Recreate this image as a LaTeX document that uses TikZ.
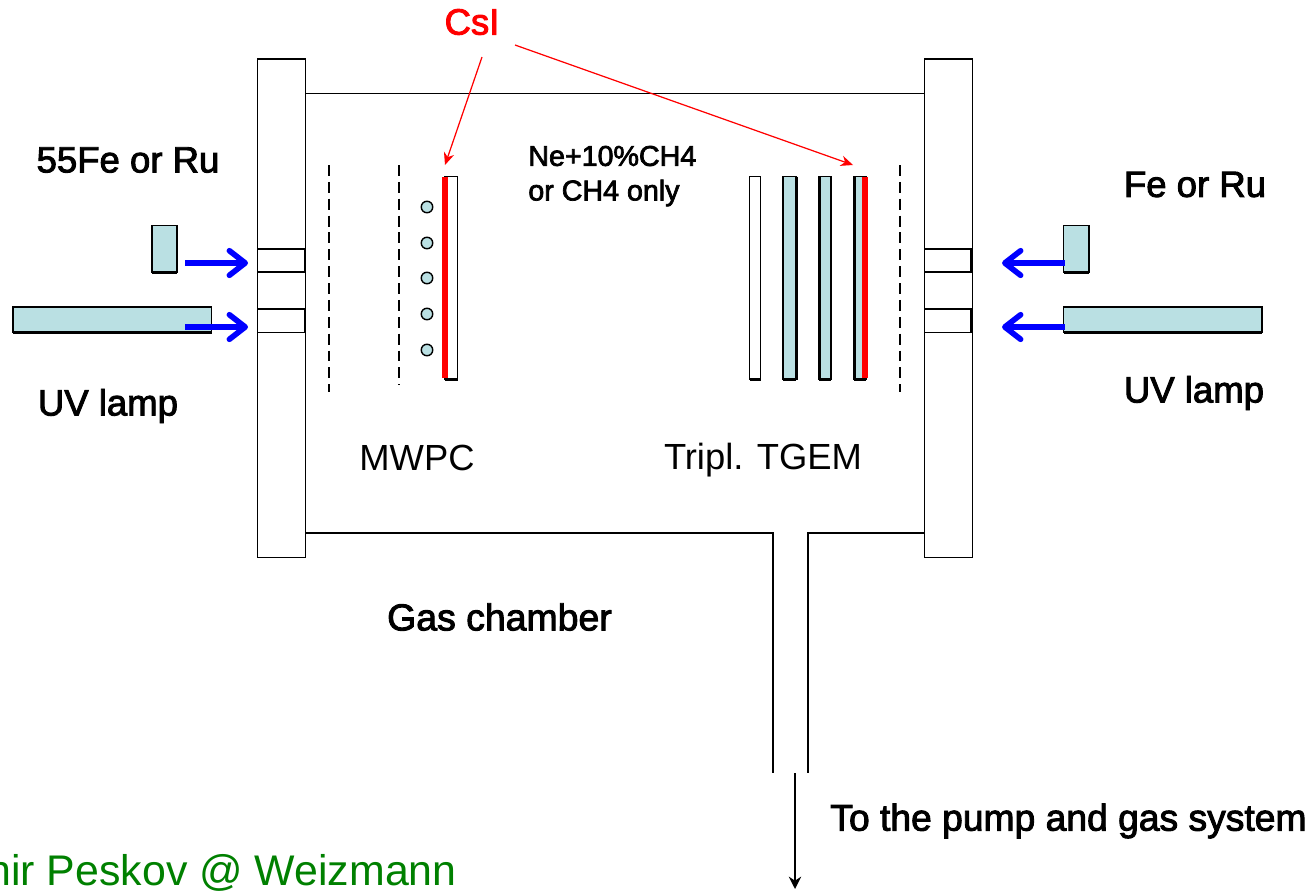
\documentclass[tikz,border=0pt]{standalone}
\usepackage{fontspec}
\setmainfont{Liberation Sans}
\newfontfamily\heavyfont[FakeBold=2.5]{Liberation Sans}
\usetikzlibrary{positioning,arrows.meta}
\definecolor{lampblue}{HTML}{BAE0E3}
\definecolor{signgreen}{HTML}{008000}
\tikzset{
    wall/.style={draw=black,fill=white,line width=.85pt,inner sep=0pt,outer sep=0pt,anchor=north west},
    lamp/.style={draw=black,fill=lampblue,line width=.85pt,inner sep=0pt,outer sep=0pt,anchor=north west},
    foil/.style={draw=none,fill=red,inner sep=0pt,outer sep=0pt,anchor=north west},
    wire/.style={circle,draw=black,fill=lampblue,line width=.8pt,inner sep=0pt,minimum size=11.5*0.02cm},
    label/.style={inner sep=0pt,font=\heavyfont\fontsize{20.8}{20.8}\selectfont,text=black},
    plainlabel/.style={inner sep=0pt,font=\fontsize{20.7}{20.7}\selectfont,text=black},
    smalllabel/.style={inner sep=0pt,font=\heavyfont\fontsize{16.3}{16.3}\selectfont,text=black,anchor=west},
    beam/.style={-{Straight Barb[length=9pt,width=14pt,round]},blue,line width=3.2pt,line cap=butt},
    pointer/.style={-{Stealth[length=7pt,width=6pt]},red,line width=.7pt},
    mesh/.style={dash pattern=on 6.2pt off 3.4pt,line width=1.1pt},
    shade/.style={line width=1.7pt,line cap=butt}
}
\newcommand{\pixbox}[6]{\node[#1,minimum width=(#4-#3)*0.02cm,minimum height=(#6-#5)*0.02cm] (#2) at (#3,#5) {};}
\begin{document}
\begin{tikzpicture}[x=0.02cm,y=-0.02cm]
    \useasboundingbox (0,0) rectangle (1314,890);
    % chamber and flanges
    \pixbox{wall}{chamber}{305.5}{924.3}{93.5}{533}
    \pixbox{wall}{flangeL}{257.5}{305.5}{59}{557.5}
    \pixbox{wall}{flangeR}{924.3}{972.3}{59}{557.5}
    \pixbox{wall}{windowLa}{257.5}{304.5}{249}{272}
    \pixbox{wall}{windowLb}{257.5}{304.5}{309}{332.5}
    \pixbox{wall}{windowRa}{924.3}{971}{249}{272}
    \pixbox{wall}{windowRb}{924.3}{971}{309}{332.5}
    \draw[shade] (windowRa.north east) -- (windowRa.south east);
    \draw[shade] (windowRb.north east) -- (windowRb.south east);
    % pipe
    \fill[white] (774,531) rectangle (807,535);
    \coordinate (pipeLa) at (773,533);
    \coordinate (pipeLb) at (773,773);
    \coordinate (pipeRa) at (808,533);
    \coordinate (pipeRb) at (808,773);
    \draw[line width=1.2pt] (pipeLa) -- (pipeLb);
    \draw[line width=1.2pt] (pipeRa) -- (pipeRb);
    % lamps
    \pixbox{lamp}{sourceL}{152}{177}{225.5}{272}
    \pixbox{lamp}{lampL}{13}{211.5}{307}{332.5}
    \pixbox{lamp}{sourceR}{1063.5}{1089}{225.5}{272}
    \pixbox{lamp}{lampR}{1063.5}{1262}{307}{332.5}
    % meshes
    \coordinate (meshAt) at (329,165);
    \coordinate (meshAb) at (329,392);
    \coordinate (meshBt) at (399,165);
    \coordinate (meshBb) at (399,385);
    \coordinate (meshCt) at (900,165);
    \coordinate (meshCb) at (900,392);
    \draw[mesh] (meshAt) -- (meshAb);
    \draw[mesh] (meshBt) -- (meshBb);
    \draw[mesh,line width=.7pt] (meshCt) -- (meshCb);
    % anode wires
    \foreach \wy [count=\i] in {207,243,278,314,350}
        \node[wire] (wire\i) at (427,\wy) {};
    % cathode and gems
    \pixbox{wall}{cathode}{445}{457.7}{176.5}{379.5}
    \pixbox{foil}{foilL}{442}{448}{177}{378}
    \pixbox{wall}{plateA}{749.5}{760.5}{176.5}{379.5}
    \pixbox{lamp}{plateB}{783}{796}{176.5}{379.5}
    \pixbox{lamp}{plateC}{819}{831}{176.5}{379.5}
    \pixbox{lamp}{plateD}{854}{866}{176.5}{379.5}
    \draw[shade] (plateB.north east) -- (plateB.south east);
    \draw[shade] (plateC.north west) -- (plateC.south west);
    \draw[shade] (plateD.north west) -- (plateD.south west);
    \foreach \plate in {cathode,plateA,plateB,plateC,plateD,sourceL,sourceR,lampL,lampR}
        \draw[shade] (\plate.south west) -- (\plate.south east);
    \pixbox{foil}{foilR}{862}{868}{177}{378}
    % texts
    \node[label,text=red] (csi) at (472,22) {CsI};
    \node[label] (sourceLtext) at (128,160) {55Fe or Ru};
    \node[label] (sourceRtext) at (1195,184.5) {Fe or Ru};
    \node[label] (lampLtext) at (108,406) {UV lamp};
    \node[label] (lampRtext) at (1194,393) {UV lamp};
    \node[plainlabel] (mwpc) at (417,458) {MWPC};
    \node[plainlabel] (tgem) at (763,460) {Tripl. TGEM};
    \node[label,font=\heavyfont\fontsize{21.3}{21.3}\selectfont] (gas) at (499.5,617) {Gas chamber};
    \node[smalllabel] (mixA) at (528,156) {Ne+10\%CH4};
    \node[smalllabel] (mixB) at (528,193) {or CH4 only};
    \node[label,anchor=west,font=\heavyfont\fontsize{21.2}{21.2}\selectfont] (pump) at (830,821) {To the pump and gas system};
    \node[inner sep=0pt,anchor=east,text=signgreen,font=\fontsize{24.4}{24.4}\selectfont] (credit) at (457,873) {hir Peskov @ Weizmann};
    % arrows
    \coordinate (csiA) at (482,57);
    \coordinate (csiB) at (515,45);
    \coordinate (csiAend) at (445,165);
    \coordinate (csiBend) at (853,165);
    \draw[pointer] (csiA) -- (csiAend);
    \draw[pointer] (csiB) -- (csiBend);
    \coordinate (beamLa) at (185,263);
    \coordinate (beamLb) at (185,327);
    \coordinate (beamRa) at (1065,263);
    \coordinate (beamRb) at (1065,327);
    \coordinate (beamLaend) at (248,263);
    \coordinate (beamLbend) at (248,327);
    \coordinate (beamRaend) at (1002,263);
    \coordinate (beamRbend) at (1002,327);
    \draw[beam] (beamLa) -- (beamLaend);
    \draw[beam] (beamLb) -- (beamLbend);
    \draw[beam] (beamRa) -- (beamRaend);
    \draw[beam] (beamRb) -- (beamRbend);
    \coordinate (pumpA) at (795,773);
    \coordinate (pumpB) at (795,889);
    \draw[-{Stealth[length=7pt,width=7pt]},line width=1.2pt] (pumpA) -- (pumpB);
\end{tikzpicture}
\end{document}
